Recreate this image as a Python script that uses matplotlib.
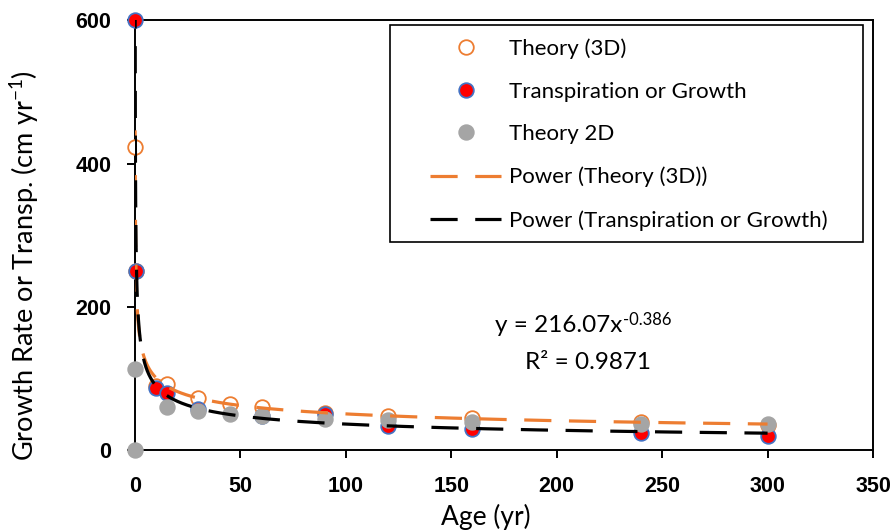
import numpy as np
import matplotlib
matplotlib.use("Agg")
import matplotlib.pyplot as plt
from matplotlib.patches import Rectangle

plt.rcParams['font.family'] = ['Lato', 'DejaVu Sans']
plt.rcParams['mathtext.fontset'] = 'custom'
plt.rcParams['mathtext.rm'] = 'Lato'
plt.rcParams['mathtext.it'] = 'Lato'

# Données
age_3d = [0.07, 0.7, 10, 15, 30, 45, 60, 90, 120, 160, 240, 300]
theory_3d = [423, 250, 90, 92, 72, 65, 60, 52, 48, 45, 39, 35]

age_tr = [0.07, 0.7, 10, 15, 30, 60, 90, 120, 160, 240, 300]
transp = [600, 250, 87, 80, 57, 48, 51, 34, 29, 24, 19]

age_2d = [0, 0, 15, 30, 45, 60, 90, 120, 160, 240, 300]
theory_2d = [0, 113, 60, 55, 51, 47, 43, 42, 39, 37, 36]

eq_base = "y = 216.07x"
eq_exp = "-0.386"
r2_text = "R² = 0.9871"


def power_fit(x, y):
    # ajustement puissance comme Excel (régression log-log)
    x = np.asarray(x, float)
    y = np.asarray(y, float)
    b, ln_a = np.polyfit(np.log(x), np.log(y), 1)
    xs = np.geomspace(x.min(), x.max(), 500)
    return xs, np.exp(ln_a) * xs ** b


fig = plt.figure(figsize=(8.94, 5.32), dpi=100)
ax = fig.add_axes([0.151, 0.154, 0.8255, 0.808])

ax.plot(age_3d, theory_3d, 'o', ms=10.5, mfc='white', mec='#ED7D31', mew=1.3,
        label='Theory (3D)', zorder=3, clip_on=False)
ax.plot(age_tr, transp, 'o', ms=10.5, mfc='#FF0000', mec='#4472C4', mew=1.3,
        label='Transpiration or Growth', zorder=3, clip_on=False)
ax.plot(age_2d, theory_2d, 'o', ms=10.5, mfc='#A5A5A5', mec='#A5A5A5', mew=1.3,
        label='Theory 2D', zorder=3, clip_on=False)

xs, ys = power_fit(age_3d, theory_3d)
ax.plot(xs, ys, color='#ED7D31', lw=2.3, dashes=(8.5, 5.5),
        label='Power (Theory (3D))', zorder=4)
xs, ys = power_fit(age_tr, transp)
ax.plot(xs, ys, color='black', lw=2.3, dashes=(8.5, 5.5),
        label='Power (Transpiration or Growth)', zorder=4)

# équation de la courbe de tendance (exposant en petit)
t_eq = ax.text(201, 174, eq_base, ha='center', va='center', fontsize=17.5)
ax.annotate(eq_exp, xy=(1, 0.78), xycoords=t_eq, ha='left', va='center',
            fontsize=12)
ax.text(215, 122, r2_text, ha='center', va='center', fontsize=17.5)

ax.set_xlim(0, 350)
ax.set_ylim(0, 600)
ax.set_xticks(range(0, 351, 50))
ax.set_yticks(range(0, 601, 200))
ax.tick_params(direction='out', length=6, width=1.4, labelsize=15.5)
ax.tick_params(axis='x', pad=13)
ax.tick_params(axis='y', pad=11)
for lab in ax.get_xticklabels() + ax.get_yticklabels():
    lab.set_fontfamily('Liberation Sans')
    lab.set_fontweight('bold')
for sp in ax.spines.values():
    sp.set_linewidth(1.4)

ax.set_xlabel('Age (yr)', fontsize=19)
ax.set_ylabel(r'Growth Rate or Transp. (cm yr$^{\mathrm{-1}}$)', fontsize=19.5)
ax.xaxis.set_label_coords(0.476, -0.156)
ax.xaxis.label.set_va('center')
ax.yaxis.set_label_coords(-0.149, 0.43)
ax.yaxis.label.set_va('center')

# cadre de la légende
ax.add_patch(Rectangle((0.3455, 0.4837), 0.641, 0.5047, transform=ax.transAxes,
                       fill=True, facecolor='white', edgecolor='black', lw=1.2,
                       zorder=5))
leg = ax.legend(loc='upper left', fontsize=16, frameon=False,
                handlelength=3.2, handletextpad=0.35, labelspacing=1.02,
                borderpad=0, borderaxespad=0, numpoints=1,
                bbox_to_anchor=(0.3997, 0.958))
leg.set_zorder(6)

fig.savefig('out.png', dpi=100)
